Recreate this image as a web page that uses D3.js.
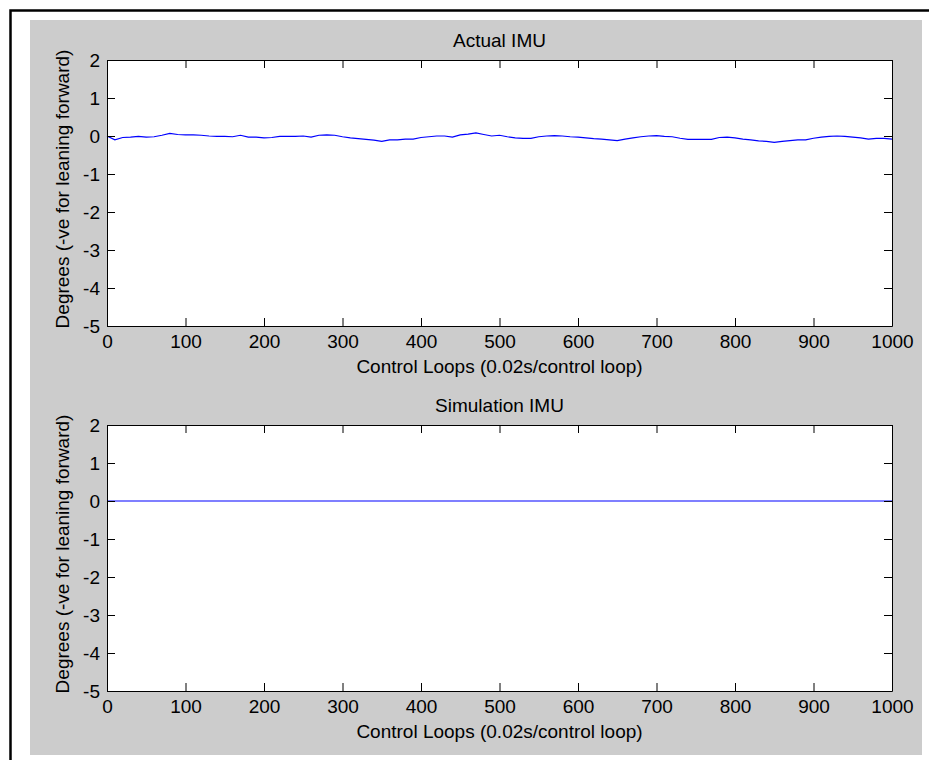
<!DOCTYPE html>
<html>
<head>
<meta charset="utf-8">
<script src="https://cdn.jsdelivr.net/npm/d3@7"></script>
<style>
  body { margin: 0; background: #fff; }
  text { font-family: "Liberation Sans", Arial, sans-serif; }
</style>
</head>
<body>
<svg id="fig" width="929" height="760"></svg>
<script>
// loop index (x) for the actual IMU trace, read every 10 loops
var actualLoops = [0, 10, 20, 30, 40, 50, 60, 70, 80, 90,
  100, 110, 120, 130, 140, 150, 160, 170, 180, 190,
  200, 210, 220, 230, 240, 250, 260, 270, 280, 290,
  300, 310, 320, 330, 340, 350, 360, 370, 380, 390,
  400, 410, 420, 430, 440, 450, 460, 470, 480, 490,
  500, 510, 520, 530, 540, 550, 560, 570, 580, 590,
  600, 610, 620, 630, 640, 650, 660, 670, 680, 690,
  700, 710, 720, 730, 740, 750, 760, 770, 780, 790,
  800, 810, 820, 830, 840, 850, 860, 870, 880, 890,
  900, 910, 920, 930, 940, 950, 960, 970, 980, 990, 1000];
// degrees
var actualDeg = [0, -0.1, -0.04, -0.03, -0.01, -0.03, -0.02, 0.02, 0.07, 0.04,
  0.03, 0.03, 0.02, 0.0, -0.01, -0.01, -0.02, 0.02, -0.03, -0.03,
  -0.05, -0.04, -0.01, -0.01, -0.01, 0.0, -0.03, 0.02, 0.03, 0.02,
  -0.02, -0.05, -0.07, -0.09, -0.11, -0.14, -0.1, -0.1, -0.08, -0.08,
  -0.04, -0.02, 0.0, 0.0, -0.03, 0.03, 0.05, 0.08, 0.04, 0.0,
  0.02, -0.02, -0.05, -0.06, -0.06, -0.02, 0.0, 0.01, 0.0, -0.02,
  -0.03, -0.05, -0.07, -0.08, -0.1, -0.12, -0.08, -0.05, -0.02, 0.0,
  0.01, -0.01, -0.02, -0.06, -0.09, -0.09, -0.09, -0.09, -0.04, -0.03,
  -0.05, -0.08, -0.1, -0.13, -0.14, -0.17, -0.14, -0.12, -0.1, -0.1,
  -0.06, -0.03, -0.01, 0.0, -0.01, -0.03, -0.05, -0.08, -0.06, -0.06, -0.08];

// simulation is flat at zero
var simLoops = [0, 1000];
var simDeg = [0, 0];

var xTicks = [0, 100, 200, 300, 400, 500, 600, 700, 800, 900, 1000];
var yTicks = [-5, -4, -3, -2, -1, 0, 1, 2];

var panels = [
  {title: "Actual IMU", xs: actualLoops, ys: actualDeg, top: 60},
  {title: "Simulation IMU", xs: simLoops, ys: simDeg, top: 425}
];

var svg = d3.select("#fig");
var left = 107, right = 892, plotH = 266;
var fontSize = 19;
var plain = function(d) { return String(d); }; // plain hyphen minus like matlab

// figure frame and grey background
svg.append("rect")
    .attr("x", 10.5).attr("y", 10.5)
    .attr("width", 940).attr("height", 780)
    .attr("fill", "#fff").attr("stroke", "#000").attr("stroke-width", 2.5);
svg.append("rect")
    .attr("x", 30).attr("y", 20)
    .attr("width", 892).attr("height", 735)
    .attr("fill", "#cccccc");

panels.forEach(function(p) {
  var x = d3.scaleLinear().domain([0, 1000]).range([left, right]);
  var y = d3.scaleLinear().domain([-5, 2]).range([p.top + plotH, p.top]);
  var g = svg.append("g");

  g.append("rect")
      .attr("x", left).attr("y", p.top)
      .attr("width", right - left).attr("height", plotH)
      .attr("fill", "#fff");

  var line = d3.line()
      .x(function(d, i) { return x(p.xs[i]); })
      .y(function(d) { return y(d); });

  g.append("path")
      .datum(p.ys)
      .attr("fill", "none")
      .attr("stroke", "#0000ff")
      .attr("stroke-width", 1.2)
      .attr("d", line);

  // matlab style box: ticks point inwards on all four sides
  var axB = g.append("g")
      .attr("transform", "translate(0," + (p.top + plotH) + ")")
      .call(d3.axisBottom(x).tickValues(xTicks).tickFormat(plain)
        .tickSizeInner(-8).tickSizeOuter(0).tickPadding(9));
  var axT = g.append("g")
      .attr("transform", "translate(0," + p.top + ")")
      .call(d3.axisTop(x).tickValues(xTicks).tickSizeInner(-8).tickSizeOuter(0).tickFormat(""));
  var axL = g.append("g")
      .attr("transform", "translate(" + left + ",0)")
      .call(d3.axisLeft(y).tickValues(yTicks).tickFormat(plain)
        .tickSizeInner(-8).tickSizeOuter(0).tickPadding(7));
  var axR = g.append("g")
      .attr("transform", "translate(" + right + ",0)")
      .call(d3.axisRight(y).tickValues(yTicks).tickSizeInner(-8).tickSizeOuter(0).tickFormat(""));

  [axB, axT, axL, axR].forEach(function(a) {
    a.selectAll("path, line").attr("stroke", "#000");
    a.selectAll("text")
        .attr("fill", "#000")
        .attr("font-size", fontSize)
        .attr("font-family", "Liberation Sans, Arial, sans-serif");
  });

  g.append("text")
      .attr("x", (left + right) / 2)
      .attr("y", p.top - 13)
      .attr("text-anchor", "middle")
      .attr("font-size", fontSize)
      .text(p.title);

  g.append("text")
      .attr("x", (left + right) / 2)
      .attr("y", p.top + plotH + 47)
      .attr("text-anchor", "middle")
      .attr("font-size", fontSize)
      .text("Control Loops (0.02s/control loop)");

  g.append("text")
      .attr("transform", "translate(69," + (p.top + plotH / 2 - 4) + ") rotate(-90)")
      .attr("text-anchor", "middle")
      .attr("font-size", fontSize)
      .text("Degrees (-ve for leaning forward)");
});
</script>
</body>
</html>
